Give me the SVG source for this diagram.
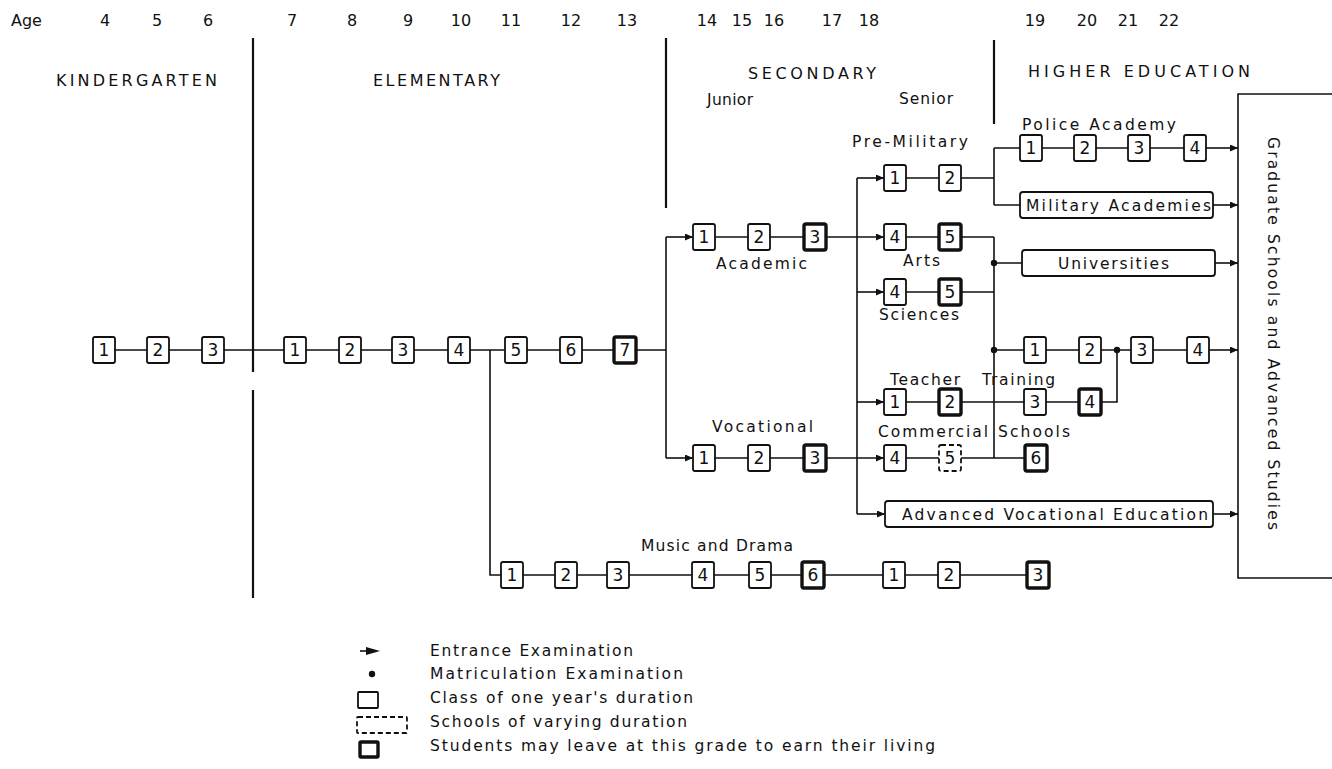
<svg xmlns="http://www.w3.org/2000/svg" width="1332" height="769" viewBox="0 0 1332 769">
<style>
text{font-family:"DejaVu Sans","Liberation Sans",sans-serif;fill:#111}
.num{font-size:16px;text-anchor:middle}
.hdr{font-size:16px}
.lbl{font-size:15.5px}
.bn{font-size:17px;text-anchor:middle}
.box{fill:#fff;stroke:#111;stroke-width:1.8}
.bold{stroke-width:3.4}
.dash{stroke-dasharray:5 3}
.ln{stroke:#111;stroke-width:1.6;fill:none}
.div{stroke:#111;stroke-width:2.2;fill:none}
.dot{fill:#111}
</style>
<defs>
<marker id="ar" markerUnits="userSpaceOnUse" markerWidth="10" markerHeight="8" refX="8" refY="3.5" orient="auto"><path d="M0,0 L8,3.5 L0,7 z" fill="#111"/></marker>
</defs>
<g id="ages">
<text class="hdr" x="11" y="26">Age</text>
<text class="num" x="105" y="26">4</text><text class="num" x="157" y="26">5</text><text class="num" x="208" y="26">6</text>
<text class="num" x="292" y="26">7</text><text class="num" x="352" y="26">8</text><text class="num" x="408" y="26">9</text>
<text class="num" x="461" y="26">10</text><text class="num" x="511" y="26">11</text><text class="num" x="571" y="26">12</text>
<text class="num" x="627" y="26">13</text><text class="num" x="707" y="26">14</text><text class="num" x="742" y="26">15</text>
<text class="num" x="774" y="26">16</text><text class="num" x="832" y="26">17</text><text class="num" x="869" y="26">18</text>
<text class="num" x="1035" y="26">19</text><text class="num" x="1087" y="26">20</text><text class="num" x="1128" y="26">21</text><text class="num" x="1169" y="26">22</text>
</g>
<g id="sections">
<path class="div" d="M253,38 V372 M253,390 V598 M666,38 V208 M994,40 V124"/>
<text class="hdr" x="56" y="86" textLength="161" lengthAdjust="spacing">KINDERGARTEN</text>
<text class="hdr" x="373" y="86" textLength="127" lengthAdjust="spacing">ELEMENTARY</text>
<text class="hdr" x="748" y="79" textLength="128" lengthAdjust="spacing">SECONDARY</text>
<text class="lbl" x="707" y="105" textLength="46" lengthAdjust="spacing">Junior</text>
<text class="lbl" x="899" y="104" textLength="54" lengthAdjust="spacing">Senior</text>
<text class="hdr" x="1028" y="77" textLength="222" lengthAdjust="spacing">HIGHER EDUCATION</text>
</g>
<g id="connectors">
<path class="ln" d="M115,350 H147 M169,350 H202 M224,350 H284 M306,350 H339 M361,350 H392 M414,350 H448 M470,350 H505 M527,350 H560 M582,350 H614 M636,350 H666"/>
<path class="ln" d="M490,350 V575 H501"/>
<path class="ln" d="M666,237 V458"/>
<path class="ln" d="M666,237 H693" marker-end="url(#ar)"/>
<path class="ln" d="M666,458 H693" marker-end="url(#ar)"/>
<path class="ln" d="M715,237 H748 M770,237 H804 M715,458 H748 M770,458 H804"/>
<path class="ln" d="M826,237 H884" marker-end="url(#ar)"/>
<path class="ln" d="M826,458 H884" marker-end="url(#ar)"/>
<path class="ln" d="M857,178 V514"/>
<path class="ln" d="M857,178 H884" marker-end="url(#ar)"/>
<path class="ln" d="M857,292 H884" marker-end="url(#ar)"/>
<path class="ln" d="M857,402 H884" marker-end="url(#ar)"/>
<path class="ln" d="M857,514 H885" marker-end="url(#ar)"/>
<path class="ln" d="M906,178 H939 M961,178 H994 M994,148 V205 M994,148 H1020 M994,205 H1020"/>
<path class="ln" d="M1042,148 H1074 M1096,148 H1128 M1150,148 H1184"/>
<path class="ln" d="M1206,148 H1238" marker-end="url(#ar)"/>
<path class="ln" d="M1213,205 H1238" marker-end="url(#ar)"/>
<path class="ln" d="M906,237 H939 M961,237 H994 M994,237 V458 M994,263 H1022"/>
<path class="ln" d="M1215,263 H1238" marker-end="url(#ar)"/>
<path class="ln" d="M906,292 H939 M961,292 H994"/>
<path class="ln" d="M994,350 H1024 M1046,350 H1079 M1101,350 H1131 M1153,350 H1187"/>
<path class="ln" d="M1209,350 H1238" marker-end="url(#ar)"/>
<path class="ln" d="M906,402 H939 M961,402 H1024 M1046,402 H1079 M1101,402 H1117 V350"/>
<path class="ln" d="M906,458 H939 M961,458 H1025"/>
<path class="ln" d="M1213,514 H1238" marker-end="url(#ar)"/>
<path class="ln" d="M523,575 H555 M577,575 H607 M629,575 H692 M714,575 H749 M771,575 H802 M824,575 H883 M905,575 H938 M960,575 H1027"/>
<circle class="dot" cx="994" cy="263" r="3.2"/>
<circle class="dot" cx="994" cy="350" r="3.2"/>
<circle class="dot" cx="1117" cy="350" r="3.2"/>
</g>
<g id="kindergarten">
<rect class="box" x="93" y="337" width="22" height="26" rx="2"/><text class="bn" x="104" y="356">1</text>
<rect class="box" x="147" y="337" width="22" height="26" rx="2"/><text class="bn" x="158" y="356">2</text>
<rect class="box" x="202" y="337" width="22" height="26" rx="2"/><text class="bn" x="213" y="356">3</text>
</g>
<g id="elementary">
<rect class="box" x="284" y="337" width="22" height="26" rx="2"/><text class="bn" x="295" y="356">1</text>
<rect class="box" x="339" y="337" width="22" height="26" rx="2"/><text class="bn" x="350" y="356">2</text>
<rect class="box" x="392" y="337" width="22" height="26" rx="2"/><text class="bn" x="403" y="356">3</text>
<rect class="box" x="448" y="337" width="22" height="26" rx="2"/><text class="bn" x="459" y="356">4</text>
<rect class="box" x="505" y="337" width="22" height="26" rx="2"/><text class="bn" x="516" y="356">5</text>
<rect class="box" x="560" y="337" width="22" height="26" rx="2"/><text class="bn" x="571" y="356">6</text>
<rect class="box bold" x="614" y="337" width="22" height="26" rx="2"/><text class="bn" x="625" y="356">7</text>
</g>
<g id="academic">
<rect class="box" x="693" y="224" width="22" height="26" rx="2"/><text class="bn" x="704" y="243">1</text>
<rect class="box" x="748" y="224" width="22" height="26" rx="2"/><text class="bn" x="759" y="243">2</text>
<rect class="box bold" x="804" y="224" width="22" height="26" rx="2"/><text class="bn" x="815" y="243">3</text>
<text class="lbl" x="716" y="269" textLength="91" lengthAdjust="spacing">Academic</text>
</g>
<g id="vocational">
<rect class="box" x="693" y="445" width="22" height="26" rx="2"/><text class="bn" x="704" y="464">1</text>
<rect class="box" x="748" y="445" width="22" height="26" rx="2"/><text class="bn" x="759" y="464">2</text>
<rect class="box bold" x="804" y="445" width="22" height="26" rx="2"/><text class="bn" x="815" y="464">3</text>
<text class="lbl" x="712" y="432" textLength="101" lengthAdjust="spacing">Vocational</text>
</g>
<g id="pre-military">
<text class="lbl" x="852" y="147" textLength="116" lengthAdjust="spacing">Pre-Military</text>
<rect class="box" x="884" y="165" width="22" height="26" rx="2"/><text class="bn" x="895" y="184">1</text>
<rect class="box" x="939" y="165" width="22" height="26" rx="2"/><text class="bn" x="950" y="184">2</text>
</g>
<g id="arts">
<rect class="box" x="884" y="224" width="22" height="26" rx="2"/><text class="bn" x="895" y="243">4</text>
<rect class="box bold" x="939" y="224" width="22" height="26" rx="2"/><text class="bn" x="950" y="243">5</text>
<text class="lbl" x="903" y="266" textLength="37" lengthAdjust="spacing">Arts</text>
</g>
<g id="sciences">
<rect class="box" x="884" y="279" width="22" height="26" rx="2"/><text class="bn" x="895" y="298">4</text>
<rect class="box bold" x="939" y="279" width="22" height="26" rx="2"/><text class="bn" x="950" y="298">5</text>
<text class="lbl" x="879" y="320" textLength="80" lengthAdjust="spacing">Sciences</text>
</g>
<g id="teacher-training">
<text class="lbl" x="890" y="385" textLength="70" lengthAdjust="spacing">Teacher</text>
<text class="lbl" x="982" y="385" textLength="73" lengthAdjust="spacing">Training</text>
<rect class="box" x="884" y="389" width="22" height="26" rx="2"/><text class="bn" x="895" y="408">1</text>
<rect class="box bold" x="939" y="389" width="22" height="26" rx="2"/><text class="bn" x="950" y="408">2</text>
<rect class="box" x="1024" y="389" width="22" height="26" rx="2"/><text class="bn" x="1035" y="408">3</text>
<rect class="box bold" x="1079" y="389" width="22" height="26" rx="2"/><text class="bn" x="1090" y="408">4</text>
</g>
<g id="commercial">
<text class="lbl" x="878" y="437" textLength="110" lengthAdjust="spacing">Commercial</text>
<text class="lbl" x="998" y="437" textLength="72" lengthAdjust="spacing">Schools</text>
<rect class="box" x="884" y="445" width="22" height="26" rx="2"/><text class="bn" x="895" y="464">4</text>
<rect class="box dash" x="939" y="445" width="22" height="26" rx="2"/><text class="bn" x="950" y="464">5</text>
<rect class="box bold" x="1025" y="445" width="22" height="26" rx="2"/><text class="bn" x="1036" y="464">6</text>
</g>
<g id="advanced-vocational">
<rect class="box" x="885" y="501" width="328" height="26" rx="3"/>
<text class="lbl" x="902" y="520" textLength="306" lengthAdjust="spacing">Advanced Vocational Education</text>
</g>
<g id="police-academy">
<text class="lbl" x="1022" y="130" textLength="154" lengthAdjust="spacing">Police Academy</text>
<rect class="box" x="1020" y="135" width="22" height="26" rx="2"/><text class="bn" x="1031" y="154">1</text>
<rect class="box" x="1074" y="135" width="22" height="26" rx="2"/><text class="bn" x="1085" y="154">2</text>
<rect class="box" x="1128" y="135" width="22" height="26" rx="2"/><text class="bn" x="1139" y="154">3</text>
<rect class="box" x="1184" y="135" width="22" height="26" rx="2"/><text class="bn" x="1195" y="154">4</text>
</g>
<g id="military-academies">
<rect class="box" x="1020" y="192" width="193" height="26" rx="3"/>
<text class="lbl" x="1026" y="211" textLength="185" lengthAdjust="spacing">Military Academies</text>
</g>
<g id="universities">
<rect class="box" x="1022" y="250" width="193" height="26" rx="3"/>
<text class="lbl" x="1058" y="269" textLength="111" lengthAdjust="spacing">Universities</text>
</g>
<g id="university-track">
<rect class="box" x="1024" y="337" width="22" height="26" rx="2"/><text class="bn" x="1035" y="356">1</text>
<rect class="box" x="1079" y="337" width="22" height="26" rx="2"/><text class="bn" x="1090" y="356">2</text>
<rect class="box" x="1131" y="337" width="22" height="26" rx="2"/><text class="bn" x="1142" y="356">3</text>
<rect class="box" x="1187" y="337" width="22" height="26" rx="2"/><text class="bn" x="1198" y="356">4</text>
</g>
<g id="music-drama">
<text class="lbl" x="641" y="551" textLength="152" lengthAdjust="spacing">Music and Drama</text>
<rect class="box" x="501" y="562" width="22" height="26" rx="2"/><text class="bn" x="512" y="581">1</text>
<rect class="box" x="555" y="562" width="22" height="26" rx="2"/><text class="bn" x="566" y="581">2</text>
<rect class="box" x="607" y="562" width="22" height="26" rx="2"/><text class="bn" x="618" y="581">3</text>
<rect class="box" x="692" y="562" width="22" height="26" rx="2"/><text class="bn" x="703" y="581">4</text>
<rect class="box" x="749" y="562" width="22" height="26" rx="2"/><text class="bn" x="760" y="581">5</text>
<rect class="box bold" x="802" y="562" width="22" height="26" rx="2"/><text class="bn" x="813" y="581">6</text>
<rect class="box" x="883" y="562" width="22" height="26" rx="2"/><text class="bn" x="894" y="581">1</text>
<rect class="box" x="938" y="562" width="22" height="26" rx="2"/><text class="bn" x="949" y="581">2</text>
<rect class="box bold" x="1027" y="562" width="22" height="26" rx="2"/><text class="bn" x="1038" y="581">3</text>
</g>
<g id="graduate-schools">
<path class="ln" d="M1332,94 H1238 V578 H1332"/>
<text class="lbl" transform="translate(1268,137) rotate(90)" textLength="393" lengthAdjust="spacing">Graduate Schools and Advanced Studies</text>
</g>
<g id="legend">
<path class="ln" d="M360,651 H368"/><path d="M366,647 L380,651 L366,655 z" fill="#111"/>
<text class="lbl" x="430" y="656" textLength="203" lengthAdjust="spacing">Entrance Examination</text>
<circle class="dot" cx="372" cy="674" r="3.2"/>
<text class="lbl" x="430" y="679" textLength="253" lengthAdjust="spacing">Matriculation Examination</text>
<rect class="box" x="358" y="692" width="20" height="16" rx="1"/>
<text class="lbl" x="430" y="703" textLength="263" lengthAdjust="spacing">Class of one year's duration</text>
<rect class="box dash" x="357" y="717" width="50" height="16" rx="1"/>
<text class="lbl" x="430" y="727" textLength="257" lengthAdjust="spacing">Schools of varying duration</text>
<rect class="box bold" x="360" y="742" width="18" height="15" rx="1"/>
<text class="lbl" x="430" y="751" textLength="505" lengthAdjust="spacing">Students may leave at this grade to earn their living</text>
</g>
</svg>
